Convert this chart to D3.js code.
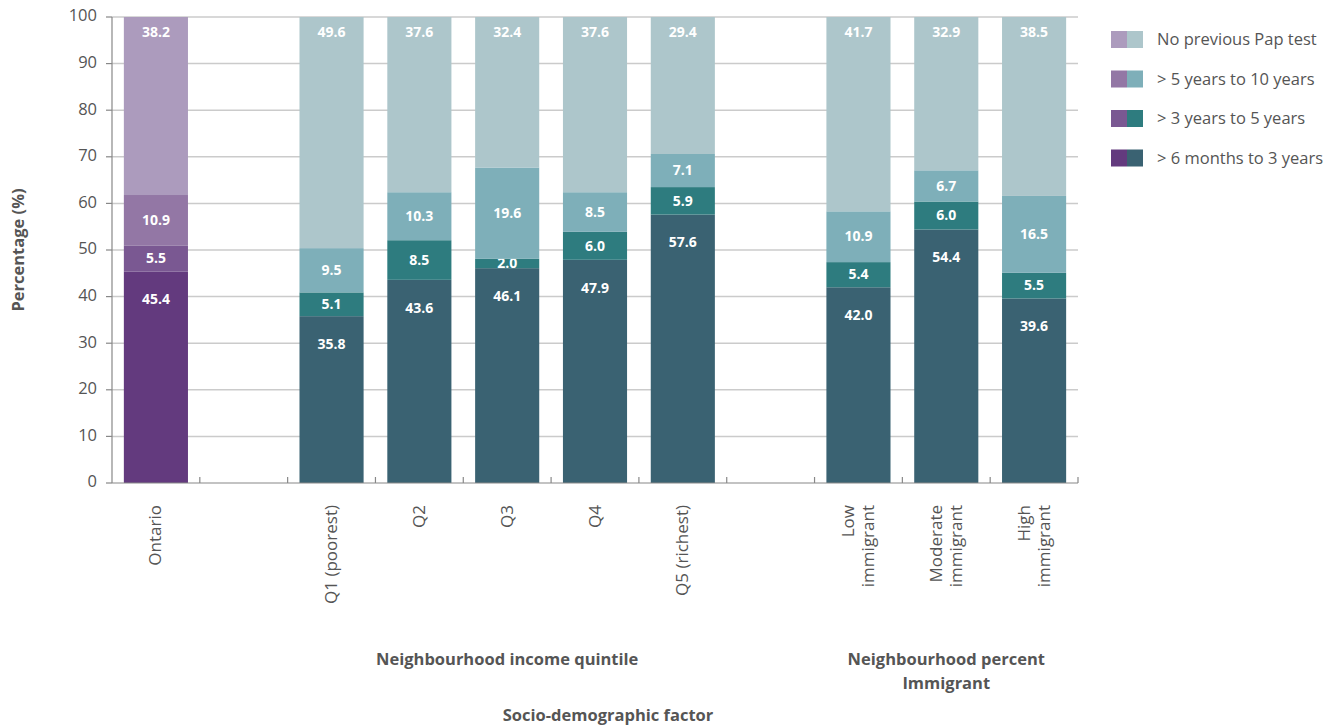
<!DOCTYPE html>
<html><head><meta charset="utf-8">
<script src="https://cdn.jsdelivr.net/npm/d3@7"></script>
<style>body{margin:0;background:#fff;} text{font-family:"Open Sans","Noto Sans",sans-serif;}</style>
</head><body><svg id="c" width="1333" height="728"></svg>
<script>
const categories = ["Ontario","gap1","Q1 (poorest)","Q2","Q3","Q4","Q5 (richest)","gap2","Low\nimmigrant","Moderate\nimmigrant","High\nimmigrant"];
const seriesNames = ["> 6 months to 3 years","> 3 years to 5 years","> 5 years to 10 years","No previous Pap test"];
const sixMonthsTo3 = [45.4,null,35.8,43.6,46.1,47.9,57.6,null,42.0,54.4,39.6];
const threeTo5     = [5.5,null,5.1,8.5,2.0,6.0,5.9,null,5.4,6.0,5.5];
const fiveTo10     = [10.9,null,9.5,10.3,19.6,8.5,7.1,null,10.9,6.7,16.5];
const noPrevious   = [38.2,null,49.6,37.6,32.4,37.6,29.4,null,41.7,32.9,38.5];
const yTicks = [0,10,20,30,40,50,60,70,80,90,100];
const groupLabels = [{text:["Neighbourhood income quintile"], from:"Q1 (poorest)", to:"Q5 (richest)"},
                     {text:["Neighbourhood percent","Immigrant"], from:"Low\nimmigrant", to:"High\nimmigrant"}];
const xTitle = "Socio-demographic factor";
const yTitle = "Percentage (%)";

const purple = ["#633a7e","#7a5892","#9377a5","#ac9bbd"];
const teal   = ["#3a6272","#2e7c7f","#7eafb9","#adc6cb"];

const svg = d3.select("#c");
const m = {l:112, r:1078, t:17, b:483};
const x = d3.scaleBand().domain(categories).range([m.l, m.r]).paddingInner(0.27).paddingOuter(0.135);
const xs = d3.scaleBand().domain(categories).range([m.l, m.r]).padding(0);
const y = d3.scaleLinear().domain([0,100]).range([m.b, m.t]).clamp(true);
const txt = "#555";

// gridlines
svg.append("g").selectAll("line").data(yTicks.filter(d=>d>0)).join("line")
  .attr("x1", m.l).attr("x2", m.r).attr("y1", d=>y(d)).attr("y2", d=>y(d))
  .attr("stroke","#cbcbcb").attr("stroke-width",1.5);

// bars
const series = [sixMonthsTo3, threeTo5, fiveTo10, noPrevious];
const rows = categories.map((c,i)=>{const o={cat:c}; series.forEach((s,j)=>o["s"+j]=s[i]||0); return o;}).filter((d,i)=>sixMonthsTo3[i]!==null);
const stack = d3.stack().keys(["s0","s1","s2","s3"])(rows);
const gBars = svg.append("g");
stack.forEach((layer, j)=>{
  layer.forEach(seg=>{
    const cat = seg.data.cat;
    const col = (cat==="Ontario"?purple:teal)[j];
    gBars.append("rect").attr("x", x(cat)).attr("width", x.bandwidth())
      .attr("y", y(seg[1])).attr("height", y(seg[0])-y(seg[1])).attr("fill", col);
    const v = seg.data["s"+j];
    let ly;
    if (j===0) ly = y(seg[1]) + 29;
    else if (j===3) ly = y(100) + 16;
    else ly = (y(seg[0])+y(seg[1]))/2 + 1;
    gBars.append("text").attr("x", x(cat)+x.bandwidth()/2).attr("y", ly)
      .attr("text-anchor","middle").attr("dominant-baseline","middle")
      .attr("fill","#fff").attr("font-weight","bold").attr("font-size",14)
      .text(v.toFixed(1));
  });
});

// axes
const ax = svg.append("g");
ax.append("line").attr("x1",m.l).attr("x2",m.l).attr("y1",m.t).attr("y2",m.b).attr("stroke","#888").attr("stroke-width",1.2);
ax.append("line").attr("x1",m.l).attr("x2",m.r).attr("y1",m.b).attr("y2",m.b).attr("stroke","#888").attr("stroke-width",1.2);
ax.selectAll(".yt").data(yTicks).join("line").attr("x1",m.l-6).attr("x2",m.l).attr("y1",d=>y(d)).attr("y2",d=>y(d)).attr("stroke","#888").attr("stroke-width",1.2);
ax.selectAll(".yl").data(yTicks).join("text").attr("x",m.l-15).attr("y",d=>y(d)).attr("text-anchor","end").attr("dominant-baseline","middle")
  .attr("font-size",16.5).attr("fill",txt).text(d=>d);
const bounds = categories.map(c=>xs(c)).concat([m.r]);
ax.selectAll(".xt").data(bounds.slice(1)).join("line").attr("x1",d=>d).attr("x2",d=>d).attr("y1",m.b).attr("y2",m.b-6).attr("stroke","#888").attr("stroke-width",1.2);

// category labels
categories.forEach(c=>{
  if (c.startsWith("gap")) return;
  const lines = c.split("\n");
  const cx = xs(c)+xs.bandwidth()/2;
  lines.forEach((ln,i)=>{
    const off = (i-(lines.length-1)/2)*20;
    svg.append("text").attr("transform",`translate(${cx+off+1},${m.b+22}) rotate(-90)`)
      .attr("text-anchor","end").attr("dominant-baseline","middle")
      .attr("font-size",17).attr("fill",txt).text(ln);
  });
});

// group labels
groupLabels.forEach(g=>{
  const cx = (xs(g.from) + xs(g.to)+xs.bandwidth())/2;
  g.text.forEach((t,i)=>{
    svg.append("text").attr("x",cx).attr("y",661+i*24).attr("text-anchor","middle").attr("dominant-baseline","middle")
      .attr("font-size",16.5).attr("font-weight","bold").attr("fill",txt).text(t);
  });
});
svg.append("text").attr("x",608).attr("y",717).attr("text-anchor","middle").attr("dominant-baseline","middle")
  .attr("font-size",16.5).attr("font-weight","bold").attr("fill",txt).text(xTitle);
svg.append("text").attr("transform",`translate(20,${(m.t+m.b)/2}) rotate(-90)`).attr("text-anchor","middle").attr("dominant-baseline","middle")
  .attr("font-size",16.5).attr("font-weight","bold").attr("fill",txt).text(yTitle);

// legend
const legOrder = [3,2,1,0];
legOrder.forEach((j,i)=>{
  const ly = 40 + i*39.5;
  svg.append("rect").attr("x",1111).attr("y",ly-9).attr("width",16).attr("height",17).attr("fill",purple[j]);
  svg.append("rect").attr("x",1127).attr("y",ly-9).attr("width",16).attr("height",17).attr("fill",teal[j]);
  svg.append("text").attr("x",1157).attr("y",ly+1).attr("dominant-baseline","middle").attr("font-size",16.5).attr("fill",txt).text(seriesNames[j]);
});
</script></body></html>
